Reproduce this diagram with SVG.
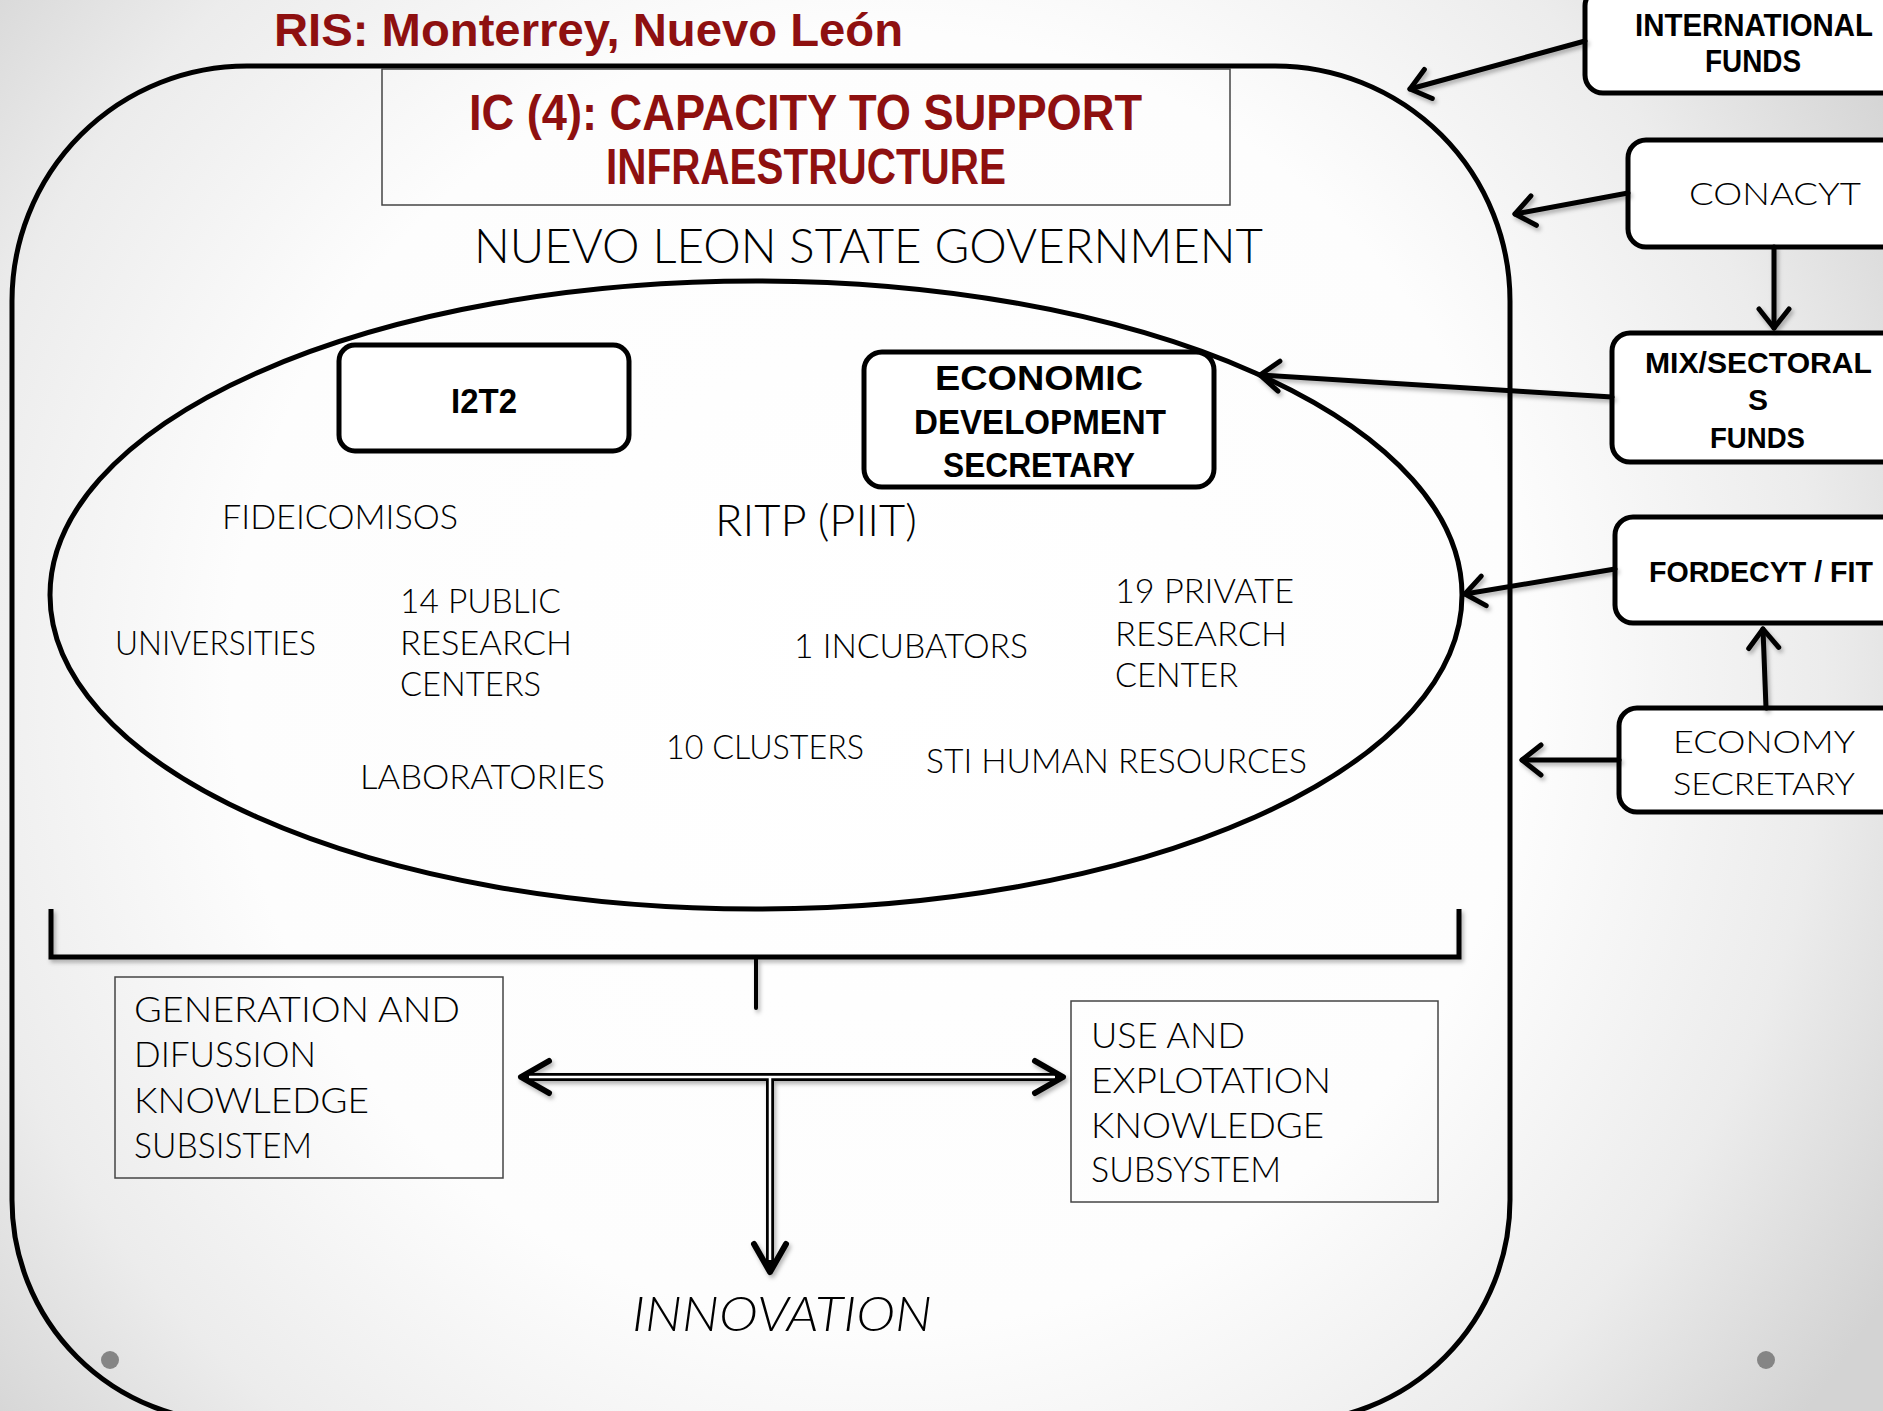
<svg xmlns="http://www.w3.org/2000/svg" width="1883" height="1411" viewBox="0 0 1883 1411">
<defs>
<radialGradient id="bg" gradientUnits="userSpaceOnUse" cx="880" cy="680" r="1180">
<stop offset="0" stop-color="#ffffff"/>
<stop offset="0.55" stop-color="#fdfdfd"/>
<stop offset="0.8" stop-color="#ececec"/>
<stop offset="1" stop-color="#d3d3d3"/>
</radialGradient>
<filter id="sh" x="-10%" y="-10%" width="120%" height="130%">
<feDropShadow dx="2" dy="3" stdDeviation="2" flood-color="#000" flood-opacity="0.3"/>
</filter>
<marker id="ah" markerUnits="userSpaceOnUse" viewBox="-26 -20 30 40" refX="0" refY="0" markerWidth="30" markerHeight="40" orient="auto">
<path d="M-19,-15 L0,0 L-19,15" fill="none" stroke="#000" stroke-width="5" stroke-linecap="round" stroke-linejoin="round"/>
</marker>
<style>
.lt{font-family:Lato,"Open Sans","Liberation Sans",sans-serif;font-weight:300;fill:#000}
.bd{font-family:"Liberation Sans",Arial,sans-serif;font-weight:bold;fill:#000}
.red{fill:#8E1010}
.thin{fill:none;stroke:#444;stroke-width:1.5}
.nbox{fill:#fff;stroke:#000;stroke-width:5}
.con{fill:none;stroke:#000;stroke-width:5;stroke-linecap:round}
.chev{fill:none;stroke:#000;stroke-width:6;stroke-linecap:round;stroke-linejoin:round}
</style>
</defs>
<rect x="0" y="0" width="1883" height="1411" fill="url(#bg)"/>

<text class="bd red" x="274" y="46" font-size="46" textLength="629" lengthAdjust="spacingAndGlyphs">RIS: Monterrey, Nuevo León</text>

<g id="outer">
<path d="M247,66 H1275 A235,235 0 0 1 1510,301 V1200 A222,222 0 0 1 1288,1422 H234 A222,222 0 0 1 12,1200 V301 A235,235 0 0 1 247,66 Z" fill="none" stroke="#000" stroke-width="5"/>
</g>

<g id="title-box">
<rect class="thin" x="382" y="69" width="848" height="136"/>
<text class="bd red" x="469" y="130" font-size="50" textLength="673" lengthAdjust="spacingAndGlyphs">IC (4): CAPACITY TO SUPPORT</text>
<text class="bd red" x="606" y="184" font-size="50" textLength="400" lengthAdjust="spacingAndGlyphs">INFRAESTRUCTURE</text>
</g>

<g id="state-gov">
<text class="lt" x="474" y="263" font-size="48" textLength="789" lengthAdjust="spacingAndGlyphs">NUEVO LEON STATE GOVERNMENT</text>
</g>

<g id="i2t2">
<rect class="nbox" x="339" y="345" width="290" height="106" rx="16"/>
<text class="bd" x="451" y="413" font-size="35" textLength="66" lengthAdjust="spacingAndGlyphs">I2T2</text>
</g>

<g id="eds">
<rect class="nbox" x="864" y="352" width="350" height="135" rx="18"/>
<text class="bd" x="935" y="390" font-size="35" textLength="208" lengthAdjust="spacingAndGlyphs">ECONOMIC</text>
<text class="bd" x="914" y="434" font-size="35" textLength="252" lengthAdjust="spacingAndGlyphs">DEVELOPMENT</text>
<text class="bd" x="943" y="477" font-size="35" textLength="192" lengthAdjust="spacingAndGlyphs">SECRETARY</text>
</g>

<g id="ritp-ellipse">
<ellipse cx="756" cy="595" rx="706" ry="314" fill="none" stroke="#000" stroke-width="5"/>
</g>

<g id="fideicomisos"><text class="lt" x="222" y="529" font-size="34" textLength="236" lengthAdjust="spacingAndGlyphs">FIDEICOMISOS</text></g>
<g id="universities"><text class="lt" x="115" y="655" font-size="34" textLength="201" lengthAdjust="spacingAndGlyphs">UNIVERSITIES</text></g>
<g id="public-rc">
<text class="lt" x="400" y="613" font-size="34" textLength="161" lengthAdjust="spacingAndGlyphs">14 PUBLIC</text>
<text class="lt" x="400" y="655" font-size="34" textLength="172" lengthAdjust="spacingAndGlyphs">RESEARCH</text>
<text class="lt" x="400" y="696" font-size="34" textLength="141" lengthAdjust="spacingAndGlyphs">CENTERS</text>
</g>
<g id="laboratories"><text class="lt" x="360" y="789" font-size="34" textLength="245" lengthAdjust="spacingAndGlyphs">LABORATORIES</text></g>
<g id="clusters"><text class="lt" x="666" y="759" font-size="34" textLength="198" lengthAdjust="spacingAndGlyphs">10 CLUSTERS</text></g>
<g id="ritp"><text class="lt" x="715" y="536" font-size="44" textLength="202" lengthAdjust="spacingAndGlyphs">RITP (PIIT)</text></g>
<g id="incubators"><text class="lt" x="794" y="658" font-size="34" textLength="234" lengthAdjust="spacingAndGlyphs">1 INCUBATORS</text></g>
<g id="private-rc">
<text class="lt" x="1115" y="603" font-size="34" textLength="179" lengthAdjust="spacingAndGlyphs">19 PRIVATE</text>
<text class="lt" x="1115" y="646" font-size="34" textLength="172" lengthAdjust="spacingAndGlyphs">RESEARCH</text>
<text class="lt" x="1115" y="687" font-size="34" textLength="123" lengthAdjust="spacingAndGlyphs">CENTER</text>
</g>
<g id="sti-hr"><text class="lt" x="926" y="773" font-size="34" textLength="381" lengthAdjust="spacingAndGlyphs">STI HUMAN RESOURCES</text></g>

<g id="international-funds">
<rect class="nbox" x="1585" y="-12" width="330" height="105" rx="18"/>
<text class="bd" x="1635" y="36" font-size="31" textLength="238" lengthAdjust="spacingAndGlyphs">INTERNATIONAL</text>
<text class="bd" x="1705" y="72" font-size="31" textLength="96" lengthAdjust="spacingAndGlyphs">FUNDS</text>
</g>
<g id="conacyt">
<rect class="nbox" x="1628" y="140" width="290" height="107" rx="18"/>
<text class="lt" x="1689" y="205" font-size="32" textLength="172" lengthAdjust="spacingAndGlyphs">CONACYT</text>
</g>
<g id="mix-sectoral">
<rect class="nbox" x="1612" y="333" width="300" height="129" rx="18"/>
<text class="bd" x="1645" y="373" font-size="30" textLength="227" lengthAdjust="spacingAndGlyphs">MIX/SECTORAL</text>
<text class="bd" x="1758" y="410" font-size="30" text-anchor="middle">S</text>
<text class="bd" x="1710" y="448" font-size="30" textLength="95" lengthAdjust="spacingAndGlyphs">FUNDS</text>
</g>
<g id="fordecyt">
<rect class="nbox" x="1615" y="517" width="300" height="106" rx="18"/>
<text class="bd" x="1649" y="582" font-size="30" textLength="224" lengthAdjust="spacingAndGlyphs">FORDECYT / FIT</text>
</g>
<g id="economy-secretary">
<rect class="nbox" x="1619" y="708" width="300" height="104" rx="18"/>
<text class="lt" x="1673" y="753" font-size="32" textLength="182" lengthAdjust="spacingAndGlyphs">ECONOMY</text>
<text class="lt" x="1673" y="795" font-size="32" textLength="182" lengthAdjust="spacingAndGlyphs">SECRETARY</text>
</g>

<g id="generation">
<rect class="thin" x="115" y="977" width="388" height="201"/>
<text class="lt" x="134" y="1022" font-size="36" textLength="326" lengthAdjust="spacingAndGlyphs">GENERATION AND</text>
<text class="lt" x="134" y="1067" font-size="36" textLength="182" lengthAdjust="spacingAndGlyphs">DIFUSSION</text>
<text class="lt" x="134" y="1113" font-size="36" textLength="235" lengthAdjust="spacingAndGlyphs">KNOWLEDGE</text>
<text class="lt" x="134" y="1158" font-size="36" textLength="178" lengthAdjust="spacingAndGlyphs">SUBSISTEM</text>
</g>
<g id="use-exploitation">
<rect class="thin" x="1071" y="1001" width="367" height="201"/>
<text class="lt" x="1091" y="1048" font-size="36" textLength="154" lengthAdjust="spacingAndGlyphs">USE AND</text>
<text class="lt" x="1091" y="1093" font-size="36" textLength="240" lengthAdjust="spacingAndGlyphs">EXPLOTATION</text>
<text class="lt" x="1091" y="1138" font-size="36" textLength="233" lengthAdjust="spacingAndGlyphs">KNOWLEDGE</text>
<text class="lt" x="1091" y="1182" font-size="36" textLength="190" lengthAdjust="spacingAndGlyphs">SUBSYSTEM</text>
</g>
<g id="innovation">
<text class="lt" x="632" y="1331" font-size="47" font-style="italic" textLength="300" lengthAdjust="spacingAndGlyphs">INNOVATION</text>
</g>

<g id="connectors" filter="url(#sh)">
<path class="con" d="M1585,41 L1410,89" marker-end="url(#ah)"/>
<path class="con" d="M1628,193 L1515,214" marker-end="url(#ah)"/>
<path class="con" d="M1774,247 L1774,328" marker-end="url(#ah)"/>
<path class="con" d="M1612,397 L1260,375" marker-end="url(#ah)"/>
<path class="con" d="M1615,569 L1465,594" marker-end="url(#ah)"/>
<path class="con" d="M1766,708 L1763,629" marker-end="url(#ah)"/>
<path class="con" d="M1619,760 L1522,760" marker-end="url(#ah)"/>
<path d="M51,909 V957 H1459 V909" fill="none" stroke="#000" stroke-width="5" stroke-linejoin="miter"/>
<path d="M756,957 V1008" fill="none" stroke="#000" stroke-width="4" stroke-linecap="round"/>
<path d="M524,1077 H1060 M770,1077 V1268" fill="none" stroke="#000" stroke-width="8"/>
<path d="M529,1077 H1055 M770,1077 V1260" fill="none" stroke="#fff" stroke-width="2.5"/>
<path class="chev" d="M549,1061 L521,1077 L549,1093"/>
<path class="chev" d="M1035,1061 L1063,1077 L1035,1093"/>
<path class="chev" d="M754,1244 L770,1272 L786,1244"/>
</g>

<circle cx="110" cy="1360" r="9" fill="#858585"/>
<circle cx="1766" cy="1360" r="9" fill="#858585"/>
</svg>
